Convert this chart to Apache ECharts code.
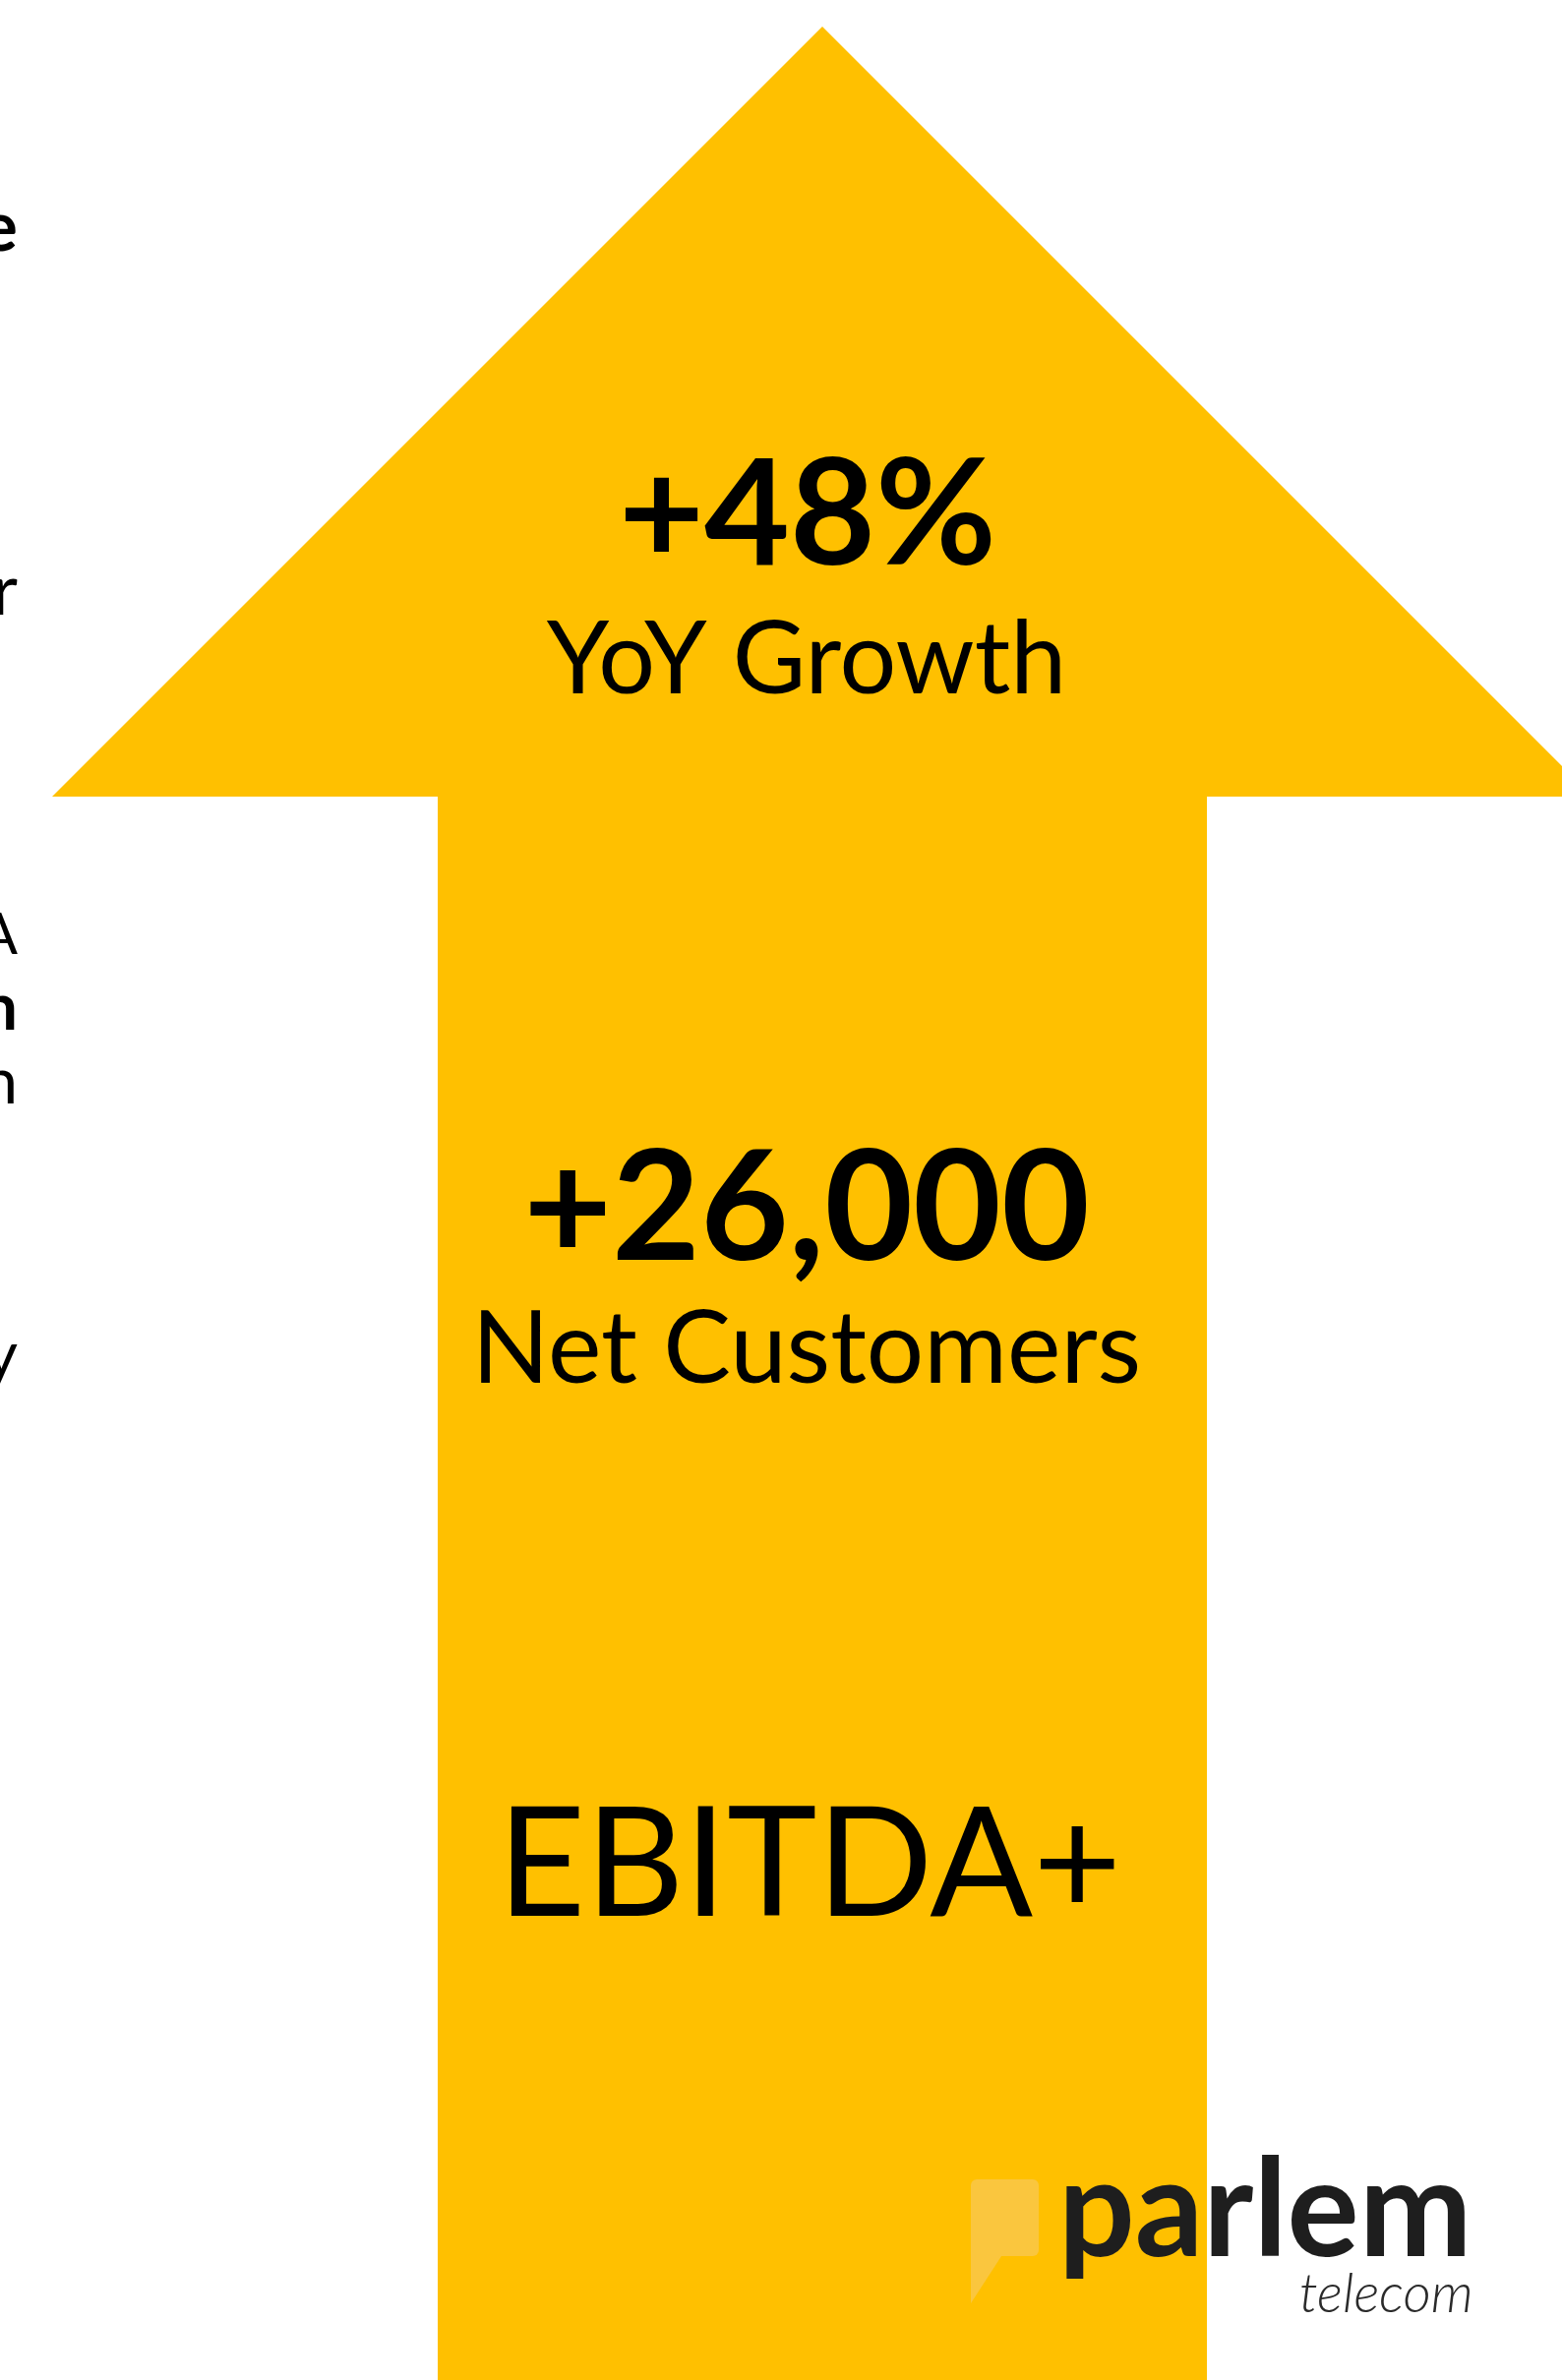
<!DOCTYPE html>
<html>
<head>
<meta charset="utf-8">
<script src="https://cdn.jsdelivr.net/npm/echarts@6/dist/echarts.min.js"></script>
<style>
  html, body { margin: 0; padding: 0; background: #fff; }
  #main { width: 1588px; height: 2420px; }
</style>
</head>
<body>
<div id="main"></div>
<script>
// arrow outline, in page units (x right, y down)
const arrowX = [836, 1619, 1227, 1227, 445, 445, 53]
const arrowY = [27, 810, 810, 2440, 2440, 810, 810]

const headlines = ['+48%', '+26,000', 'EBITDA+']
const captions = ['YoY Growth', 'Net Customers']
// letters from the text column cut off at the left edge
const sideLetters = ['e', 'r', 'A', 'n', 'n', 'y']

const brandName = 'parlem'
const brandSub = 'telecom'

const YELLOW = '#FFC000'
const BUBBLE = '#FAC63E'
const FONT = 'Lato, "Open Sans", sans-serif'

const chart = echarts.init(document.getElementById('main'))

// baseline -> y for verticalAlign middle
function txt(text, x, baseline, size, weight, opts) {
  opts = opts || {}
  return {
    type: 'text',
    x: x,
    y: baseline - size * 0.32,
    z: 10,
    style: {
      text: text,
      fontSize: size,
      fontFamily: FONT,
      fontWeight: weight,
      fontStyle: opts.italic ? 'italic' : 'normal',
      fill: opts.color || '#000',
      align: opts.align || 'center',
      verticalAlign: 'middle'
    }
  }
}

const sideY = [255, 625, 970, 1047, 1122, 1400]
const sideSize = [70, 72, 58, 66, 66, 66]
const sideWeight = ['bold', 'normal', 'normal', 'bold', 'normal', 'normal']

const graphics = [
  txt(headlines[0], 821, 574, 150, 'bold'),
  txt(captions[0], 820, 705, 102, 'normal'),
  txt(headlines[1], 820, 1281, 155, 'bold'),
  txt(captions[1], 820, 1406, 103, 'normal'),
  txt(headlines[2], 823, 1948, 155, 'normal'),
  // logo bubble
  {
    type: 'rect',
    z: 10,
    shape: { x: 987, y: 2216, width: 69, height: 78, r: 6 },
    style: { fill: BUBBLE }
  },
  {
    type: 'polygon',
    z: 10,
    shape: { points: [[987, 2288], [1022, 2288], [987, 2342]] },
    style: { fill: BUBBLE }
  },
  txt(brandName, 1076, 2294, 137, 'bold', { align: 'left', color: '#1e1e1e' }),
  txt(brandSub, 1321, 2351, 55, 300, { align: 'left', color: '#2a2a2a', italic: true })
]

sideLetters.forEach((ch, i) => {
  graphics.push(txt(ch, 18, sideY[i], sideSize[i], sideWeight[i], { align: 'right' }))
})

const option = {
  backgroundColor: '#fff',
  animation: false,
  grid: { left: 0, right: 0, top: 0, bottom: 0 },
  xAxis: { type: 'value', min: 0, max: 1588, show: false },
  yAxis: { type: 'value', min: 0, max: 2420, inverse: true, show: false },
  series: [
    {
      type: 'custom',
      silent: true,
      z: 1,
      data: [0],
      renderItem: (params, api) => {
        const pts = arrowX.map((x, i) => api.coord([x, arrowY[i]]))
        return {
          type: 'polygon',
          shape: { points: pts },
          style: { fill: YELLOW }
        }
      }
    }
  ],
  graphic: graphics
}

chart.setOption(option)
</script>
</body>
</html>
